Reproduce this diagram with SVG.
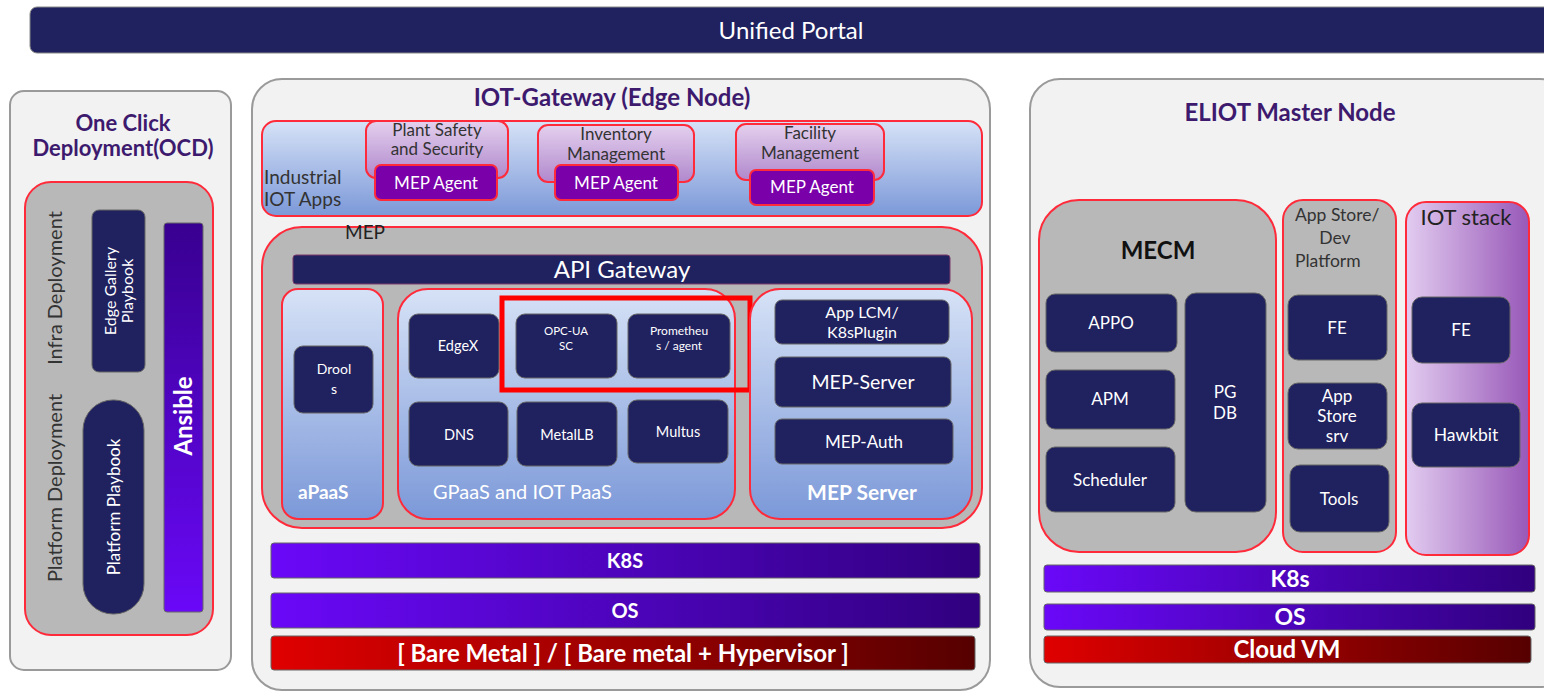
<svg xmlns="http://www.w3.org/2000/svg" width="1544" height="700" viewBox="0 0 1544 700">
<defs>
<linearGradient id="gBlue" x1="0" y1="0" x2="0" y2="1"><stop offset="0" stop-color="#d6e2f6"/><stop offset="1" stop-color="#7b98d8"/></linearGradient>
<linearGradient id="gLav" x1="0" y1="0" x2="0" y2="1"><stop offset="0" stop-color="#e4d0ee"/><stop offset="1" stop-color="#b088cc"/></linearGradient>
<linearGradient id="gIot" x1="0" y1="0" x2="1" y2="0"><stop offset="0" stop-color="#e2ccf0"/><stop offset="1" stop-color="#9858b8"/></linearGradient>
<linearGradient id="gViolet" x1="0" y1="0" x2="1" y2="0"><stop offset="0" stop-color="#6a08f8"/><stop offset="1" stop-color="#30007e"/></linearGradient>
<linearGradient id="gAns" x1="0" y1="0" x2="0" y2="1"><stop offset="0" stop-color="#380090"/><stop offset="1" stop-color="#6a08f8"/></linearGradient>
<linearGradient id="gRed" x1="0" y1="0" x2="1" y2="0"><stop offset="0" stop-color="#e00000"/><stop offset="1" stop-color="#560000"/></linearGradient>
</defs>
<style>
text{font-family:Lato,"Liberation Sans",sans-serif}
.outer{fill:#f2f2f2;stroke:#9a9a9a;stroke-width:2}
.grey{fill:#b8b8b8;stroke:#ff2a3a;stroke-width:2}
.blue{fill:url(#gBlue);stroke:#ff2a3a;stroke-width:2}
.lav{fill:url(#gLav);stroke:#ff2a3a;stroke-width:2}
.agent{fill:#7a00aa;stroke:#ff2a3a;stroke-width:2}
.nb{fill:#20215f;stroke:#666;stroke-width:1}
.vio{fill:url(#gViolet);stroke:#666;stroke-width:1}
.redb{fill:url(#gRed);stroke:#666;stroke-width:1}
.title{fill:#3d1a6e;font-weight:bold;text-anchor:middle}
.w{fill:#ffffff;text-anchor:middle}
.wb{fill:#ffffff;text-anchor:middle;font-weight:bold}
.dk{fill:#333333;text-anchor:middle}
</style>

<g id="unified-portal">
<rect x="30" y="7" width="1530" height="46" rx="7" fill="#20215f" stroke="#888" stroke-width="1"/>
<text x="791" y="39" class="w" font-size="24">Unified Portal</text>
</g>

<g id="ocd">
<rect x="10" y="91" width="221" height="579" rx="14" class="outer"/>
<text x="123" y="131" class="title" font-size="22">One Click</text>
<text x="123" y="156" class="title" font-size="22">Deployment(OCD)</text>
<rect x="25" y="182" width="188" height="453" rx="26" class="grey"/>
<text transform="translate(62,288) rotate(-90)" class="dk" font-size="20" fill="#222">Infra Deployment</text>
<text transform="translate(62,488) rotate(-90)" class="dk" font-size="20" fill="#222">Platform Deployment</text>
<g id="edge-gallery-playbook">
<rect x="92" y="210" width="53" height="162" rx="7" class="nb"/>
<text transform="translate(116,291) rotate(-90)" class="w" font-size="16">Edge Gallery</text>
<text transform="translate(133,291) rotate(-90)" class="w" font-size="16">Playbook</text>
</g>
<g id="platform-playbook">
<rect x="83" y="400" width="61" height="214" rx="30" class="nb"/>
<text transform="translate(120,507) rotate(-90)" class="w" font-size="17">Platform Playbook</text>
</g>
<g id="ansible">
<rect x="164" y="223" width="39" height="389" rx="3" fill="url(#gAns)" stroke="#666" stroke-width="1"/>
<text transform="translate(192,416) rotate(-90)" class="wb" font-size="24">Ansible</text>
</g>
</g>

<g id="iot-gateway">
<rect x="252" y="79" width="738" height="611" rx="30" class="outer"/>
<text x="612" y="106" class="title" font-size="24">IOT-Gateway (Edge Node)</text>
</g>

<g id="industrial-iot-apps">
<rect x="262" y="121" width="720" height="95" rx="14" class="blue"/>
<text x="264" y="184" font-size="19" fill="#333">Industrial</text>
<text x="264" y="206" font-size="19" fill="#333">IOT Apps</text>
</g>
<g id="plant-safety">
<rect x="366" y="121" width="142" height="57" rx="10" class="lav"/>
<text x="437" y="136" class="dk" font-size="17">Plant Safety</text>
<text x="437" y="155" class="dk" font-size="17">and Security</text>
<rect x="375" y="165" width="122" height="35" rx="6" class="agent"/>
<text x="436" y="189" class="w" font-size="17">MEP Agent</text>
</g>
<g id="inventory">
<rect x="538" y="125" width="156" height="57" rx="10" class="lav"/>
<text x="616" y="140" class="dk" font-size="17">Inventory</text>
<text x="616" y="160" class="dk" font-size="17">Management</text>
<rect x="555" y="165" width="123" height="35" rx="6" class="agent"/>
<text x="616" y="189" class="w" font-size="17">MEP Agent</text>
</g>
<g id="facility">
<rect x="736" y="124" width="148" height="56" rx="10" class="lav"/>
<text x="810" y="139" class="dk" font-size="17">Facility</text>
<text x="810" y="159" class="dk" font-size="17">Management</text>
<rect x="750" y="170" width="124" height="35" rx="6" class="agent"/>
<text x="812" y="193" class="w" font-size="17">MEP Agent</text>
</g>

<g id="mep">
<rect x="262" y="227" width="720" height="301" rx="40" class="grey"/>
<text x="345" y="239" font-size="19" fill="#222">MEP</text>
</g>
<g id="api-gateway">
<rect x="293" y="255" width="657" height="29" rx="3" fill="#20215f" stroke="#7a3a6a" stroke-width="1"/>
<text x="622" y="278" class="w" font-size="24">API Gateway</text>
</g>

<g id="apaas">
<rect x="282" y="289" width="101" height="230" rx="16" class="blue"/>
<text x="298" y="499" font-size="19" font-weight="bold" fill="#fff">aPaaS</text>
<rect x="294" y="346" width="79" height="67" rx="9" class="nb"/>
<text x="334" y="374" class="w" font-size="14">Drool</text>
<text x="334" y="394" class="w" font-size="14">s</text>
</g>

<g id="gpaas">
<rect x="398" y="289" width="337" height="230" rx="30" class="blue"/>
<text x="433" y="499" font-size="20" fill="#fff">GPaaS and IOT PaaS</text>
</g>
<g id="edgex"><rect x="409" y="314" width="90" height="64" rx="9" class="nb"/><text x="458" y="351" class="w" font-size="14.5">EdgeX</text></g>
<g id="opc-ua"><rect x="516" y="314" width="101" height="64" rx="9" class="nb"/><text x="566" y="335" class="w" font-size="11.5">OPC-UA</text><text x="566" y="350" class="w" font-size="11.5">SC</text></g>
<g id="prometheus"><rect x="628" y="314" width="102" height="64" rx="9" class="nb"/><text x="679" y="335" class="w" font-size="12">Prometheu</text><text x="679" y="350" class="w" font-size="12">s / agent</text></g>
<g id="dns"><rect x="409" y="402" width="99" height="64" rx="9" class="nb"/><text x="459" y="440" class="w" font-size="14.5">DNS</text></g>
<g id="metallb"><rect x="517" y="402" width="100" height="64" rx="9" class="nb"/><text x="567" y="440" class="w" font-size="14.5">MetalLB</text></g>
<g id="multus"><rect x="628" y="400" width="100" height="63" rx="9" class="nb"/><text x="678" y="437" class="w" font-size="14.5">Multus</text></g>
<g id="highlight"><rect x="502" y="298" width="248" height="92" fill="none" stroke="#ff0000" stroke-width="5"/></g>

<g id="mep-server-group">
<rect x="750" y="289" width="222" height="230" rx="30" class="blue"/>
<text x="862" y="500" class="wb" font-size="21">MEP  Server</text>
</g>
<g id="app-lcm"><rect x="775" y="300" width="174" height="44" rx="7" class="nb"/><text x="862" y="318" class="w" font-size="16">App LCM/</text><text x="862" y="338" class="w" font-size="16">K8sPlugin</text></g>
<g id="mep-server"><rect x="775" y="357" width="176" height="50" rx="7" class="nb"/><text x="863" y="389" class="w" font-size="19.5">MEP-Server</text></g>
<g id="mep-auth"><rect x="775" y="419" width="178" height="45" rx="7" class="nb"/><text x="864" y="448" class="w" font-size="17">MEP-Auth</text></g>

<g id="k8s-edge"><rect x="271" y="543" width="709" height="35" rx="3" class="vio"/><text x="625" y="568" class="wb" font-size="20">K8S</text></g>
<g id="os-edge"><rect x="271" y="593" width="709" height="35" rx="3" class="vio"/><text x="625" y="618" class="wb" font-size="20">OS</text></g>
<g id="bare-metal"><rect x="271" y="636" width="704" height="34" rx="3" class="redb"/><text x="623" y="662" class="wb" font-size="24">[ Bare Metal ] / [ Bare metal + Hypervisor ]</text></g>

<g id="eliot-master">
<rect x="1030" y="79" width="540" height="608" rx="30" class="outer"/>
<text x="1290" y="121" class="title" font-size="24">ELIOT Master Node</text>
</g>
<g id="mecm">
<rect x="1039" y="200" width="237" height="352" rx="40" class="grey"/>
<text x="1158" y="259" font-size="24" font-weight="bold" fill="#111" text-anchor="middle">MECM</text>
</g>
<g id="appo"><rect x="1046" y="294" width="131" height="58" rx="9" class="nb"/><text x="1111" y="329" class="w" font-size="17">APPO</text></g>
<g id="apm"><rect x="1046" y="370" width="129" height="59" rx="9" class="nb"/><text x="1110" y="405" class="w" font-size="17">APM</text></g>
<g id="scheduler"><rect x="1046" y="447" width="129" height="65" rx="9" class="nb"/><text x="1110" y="486" class="w" font-size="17">Scheduler</text></g>
<g id="pgdb"><rect x="1185" y="293" width="81" height="219" rx="11" class="nb"/><text x="1225" y="398" class="w" font-size="17">PG</text><text x="1225" y="419" class="w" font-size="17">DB</text></g>

<g id="app-store">
<rect x="1283" y="200" width="113" height="352" rx="20" class="grey"/>
<text x="1295" y="221" font-size="17.5" fill="#333">App Store/</text>
<text x="1335" y="244" class="dk" font-size="17.5">Dev</text>
<text x="1295" y="267" font-size="17.5" fill="#333">Platform</text>
</g>
<g id="fe-store"><rect x="1288" y="295" width="99" height="65" rx="10" class="nb"/><text x="1337" y="334" class="w" font-size="17">FE</text></g>
<g id="app-store-srv"><rect x="1288" y="383" width="99" height="66" rx="10" class="nb"/><text x="1337" y="402" class="w" font-size="17">App</text><text x="1337" y="422" class="w" font-size="17">Store</text><text x="1337" y="442" class="w" font-size="17">srv</text></g>
<g id="tools"><rect x="1290" y="465" width="99" height="67" rx="10" class="nb"/><text x="1339" y="505" class="w" font-size="17">Tools</text></g>

<g id="iot-stack">
<rect x="1406" y="202" width="123" height="353" rx="20" fill="url(#gIot)" stroke="#ff2a3a" stroke-width="2"/>
<text x="1466" y="225" font-size="22" fill="#222" text-anchor="middle">IOT stack</text>
</g>
<g id="fe-iot"><rect x="1412" y="297" width="98" height="66" rx="10" class="nb"/><text x="1461" y="336" class="w" font-size="17">FE</text></g>
<g id="hawkbit"><rect x="1412" y="403" width="108" height="64" rx="10" class="nb"/><text x="1466" y="441" class="w" font-size="17.5">Hawkbit</text></g>

<g id="k8s-master"><rect x="1044" y="565" width="491" height="27" rx="3" class="vio"/><text x="1290" y="587" class="wb" font-size="23">K8s</text></g>
<g id="os-master"><rect x="1044" y="604" width="491" height="26" rx="3" class="vio"/><text x="1290" y="625" class="wb" font-size="23">OS</text></g>
<g id="cloud-vm"><rect x="1044" y="636" width="487" height="27" rx="3" class="redb"/><text x="1287" y="658" class="wb" font-size="24">Cloud VM</text></g>

<g id="connectors"></g>
</svg>
